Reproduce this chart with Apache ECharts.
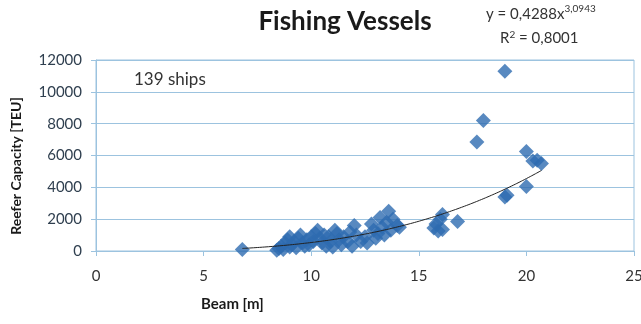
<!DOCTYPE html>
<html><head><meta charset="utf-8">
<script src="https://cdn.jsdelivr.net/npm/echarts@6/dist/echarts.min.js"></script>
<style>html,body{margin:0;padding:0;background:#fff}#c{width:641px;height:324px}</style>
</head><body><div id="c"></div>
<script>
const beam = [6.8, 8.4, 8.5, 8.6, 8.7, 8.8, 8.9, 9.0, 9.0, 9.1, 9.2, 9.3, 9.4, 9.5, 9.6, 9.7, 9.8, 9.9, 10.0, 10.1, 10.2, 10.3, 10.4, 10.5, 10.6, 10.7, 10.8, 10.9, 11.0, 11.1, 11.2, 11.3, 11.4, 11.5, 11.7, 11.8, 11.9, 12.0, 12.1, 12.3, 12.5, 12.6, 12.8, 12.9, 13.0, 13.1, 13.2, 13.3, 13.4, 13.5, 13.6, 13.7, 13.8, 14.0, 14.1, 15.7, 15.8, 15.9, 16.0, 16.1, 16.1, 16.8, 17.7, 18.0, 19.0, 19.0, 19.1, 20.0, 20.0, 20.3, 20.5, 20.7];
const reefer = [100, 50, 150, 300, 100, 500, 700, 250, 900, 400, 600, 200, 800, 1000, 500, 300, 700, 400, 900, 600, 1100, 1300, 800, 500, 1000, 300, 900, 600, 250, 1300, 1100, 700, 400, 900, 600, 1200, 300, 1600, 1000, 600, 900, 500, 1700, 1300, 800, 1100, 2100, 1500, 1000, 1800, 2500, 1300, 2000, 1600, 1500, 1450, 1700, 1250, 2000, 2300, 1350, 1850, 6850, 8200, 11300, 3400, 3500, 6250, 4050, 5650, 5700, 5500];
const xTicks = [0, 5, 10, 15, 20, 25];
const yTicks = [0, 2000, 4000, 6000, 8000, 10000, 12000];
const fitA = 0.4288, fitB = 3.0943, fitFrom = 6.8, fitTo = 20.7;

const pts = beam.map((b, i) => [b, reefer[i]]);
const fit = [];
for (let k = 0; k <= 40; k++) {
  const x = fitFrom + (fitTo - fitFrom) * k / 40;
  fit.push([x, fitA * Math.pow(x, fitB)]);
}
const gridCol = '#9cc3df';
const chart = echarts.init(document.getElementById('c'));
chart.setOption({
  animation: false,
  backgroundColor: '#fff',
  title: {
    text: 'Fishing Vessels', left: 340, top: 4, textAlign: 'center',
    textStyle: { fontFamily: 'Lato', fontWeight: 'bold', fontSize: 26, color: '#1a1a1a' }
  },
  grid: { left: 96, right: 7, top: 60, bottom: 73, show: true, borderColor: gridCol, borderWidth: 1,
          containLabel: false, outerBoundsMode: 'none' },
  xAxis: {
    type: 'value', min: xTicks[0], max: xTicks[xTicks.length - 1], interval: 5,
    axisLine: { lineStyle: { color: gridCol } },
    axisTick: { show: true, length: 5, lineStyle: { color: gridCol } },
    axisLabel: { margin: 18, fontSize: 15, fontFamily: 'Lato', color: '#333' },
    splitLine: { show: false }
  },
  yAxis: {
    type: 'value', min: yTicks[0], max: yTicks[yTicks.length - 1], interval: 2000,
    axisLine: { show: true, lineStyle: { color: gridCol } },
    axisTick: { show: true, length: 5, lineStyle: { color: gridCol } },
    axisLabel: { margin: 14, fontSize: 15, fontFamily: 'Lato', color: '#2f3f4f', formatter: v => String(v) },
    splitLine: { show: true, lineStyle: { color: gridCol, width: 1 } }
  },
  series: [
    { type: 'scatter', data: pts, symbol: 'diamond', symbolSize: 15,
      itemStyle: { color: '#2e6bb0' }, z: 2 },
    { type: 'line', data: fit, showSymbol: false, smooth: true,
      lineStyle: { color: '#222', width: 1 }, z: 3 }
  ],
  graphic: [
    { type: 'text', x: 16, y: 166, rotation: Math.PI / 2,
      style: { text: 'Reefer Capacity [TEU]', font: 'bold 14px Lato', fill: '#1a1a1a', align: 'center', verticalAlign: 'middle' } },
    { type: 'text', left: 134, top: 71, style: { text: '139 ships', font: '17px Lato', fill: '#333' } },
    { type: 'text', left: 201, top: 297, style: { text: 'Beam [m]', font: 'bold 15px Lato', fill: '#1a1a1a' } },
    { type: 'text', left: 486, top: 4, style: {
        text: '{a|y = 0,4288x}{s|3,0943}',
        rich: { a: { font: '15px Lato', fill: '#333', verticalAlign: 'bottom' },
                s: { font: '10px Lato', fill: '#333', verticalAlign: 'top', padding: [0,0,8,0] } } } },
    { type: 'text', left: 500, top: 30, style: {
        text: '{a|R}{s|2}{a| = 0,8001}',
        rich: { a: { font: '15px Lato', fill: '#333' },
                s: { font: '10px Lato', fill: '#333', padding: [0,0,6,0] } } } }
  ]
});
</script></body></html>
